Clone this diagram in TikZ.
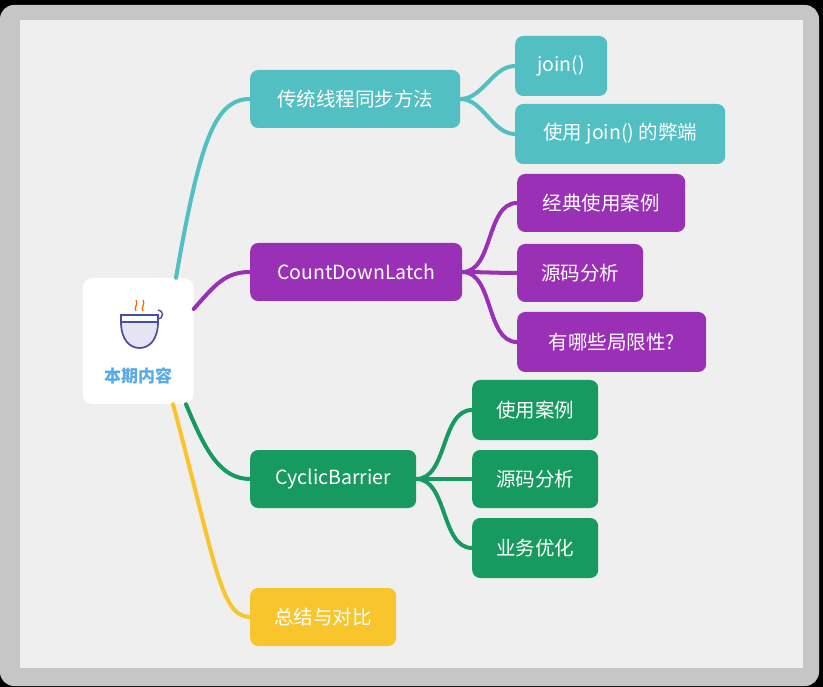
\documentclass[tikz,border=0pt]{standalone}
\usepackage{fontspec}
\setmainfont{Noto Sans CJK SC}
\definecolor{teal1}{HTML}{52BFC2}
\definecolor{purp1}{HTML}{9A30B6}
\definecolor{green1}{HTML}{169A5F}
\definecolor{yell1}{HTML}{F8C62C}
\definecolor{bg1}{HTML}{EFEFEF}
\definecolor{rootblue}{HTML}{5AAAE6}
\definecolor{cupblue}{HTML}{4B4BA8}
\begin{document}
\begin{tikzpicture}[x=1pt,y=-1pt]
    \tikzset{box/.style={rounded corners=8, text=white, font=\fontsize{19.5}{22}\selectfont, minimum height=58, anchor=west, inner xsep=0}}
    \tikzset{edge/.style={line width=4, line cap=round}}
    \fill [black] (0,0) rectangle (823,687);
    \fill [gray!45, rounded corners=14] (0,5) rectangle (819,686);
    \fill [bg1] (20,20) rectangle (803,668);
    % root
    \node (root) [fill=white, rounded corners=10, minimum width=111, minimum height=126] at (138,341) {};
    \node (rootlabel) [text=rootblue, font=\fontsize{17}{20}\selectfont\bfseries] at (138,376) {本期内容};
    \fill [cupblue!15] (121,322) -- (158,322) .. controls (158,340) and (149,348) .. (139.5,348) .. controls (130,348) and (121,340) .. (121,322);
    \draw [cupblue, line width=1.7] (121,315) -- (158,315) -- (158,322) .. controls (158,340) and (149,348) .. (139.5,348) .. controls (130,348) and (121,340) .. (121,322) -- cycle;
    \draw [cupblue, line width=1.4] (121,322) -- (158,322);
    \draw [cupblue, line width=1.4] (158,319) arc (90:-90:4.5);
    \draw [orange!80!red, line width=1.2] (136,311) .. controls (133,307) and (139,305) .. (136,300);
    \draw [orange!80!red, line width=1.2] (143,311) .. controls (140,307) and (146,305) .. (143,300);
    % main branches
    \node (sync) [box, fill=teal1, minimum width=210] at (250,99) {传统线程同步方法};
    \node (cdl) [box, fill=purp1, minimum width=212] at (250,272) {CountDownLatch};
    \node (cb) [box, fill=green1, minimum width=166] at (250,479) {CyclicBarrier};
    \node (sum) [box, fill=yell1, minimum width=146] at (250,617) {总结与对比};
    \node (join) [box, fill=teal1, minimum width=92, minimum height=60] at (515,66) {join()};
    \node (joinbad) [box, fill=teal1, minimum width=210, minimum height=60] at (515,134) {使用 join() 的弊端};
    \node (case1) [box, fill=purp1, minimum width=168] at (517,203) {经典使用案例};
    \node (src1) [box, fill=purp1, minimum width=126] at (517,273) {源码分析};
    \node (limit) [box, fill=purp1, minimum width=189, minimum height=60] at (517,342) {有哪些局限性?};
    \node (case2) [box, fill=green1, minimum width=126, minimum height=60] at (472,410) {使用案例};
    \node (src2) [box, fill=green1, minimum width=126] at (472,479) {源码分析};
    \node (opt) [box, fill=green1, minimum width=126, minimum height=60] at (472,548) {业务优化};
    % connectors
    \draw [edge, teal1] (root.north) ++(38,0) .. controls (200,140) and (215,99) .. (sync.west);
    \draw [edge, purp1] (root.east) ++(0,-32) .. controls (215,285) and (225,272) .. (cdl.west);
    \draw [edge, green1] (root.south) ++(48,0) .. controls (205,450) and (220,479) .. (cb.west);
    \draw [edge, yell1] (root.south) ++(35,0) .. controls (215,560) and (220,617) .. (sum.west);
    \foreach \p/\c/\col in {sync/join/teal1, sync/joinbad/teal1, cdl/case1/purp1, cdl/src1/purp1, cdl/limit/purp1, cb/case2/green1, cb/src2/green1, cb/opt/green1}
        \draw [edge, \col] (\p.east) to [out=0, in=180, looseness=0.9] (\c.west);
\end{tikzpicture}
\end{document}
